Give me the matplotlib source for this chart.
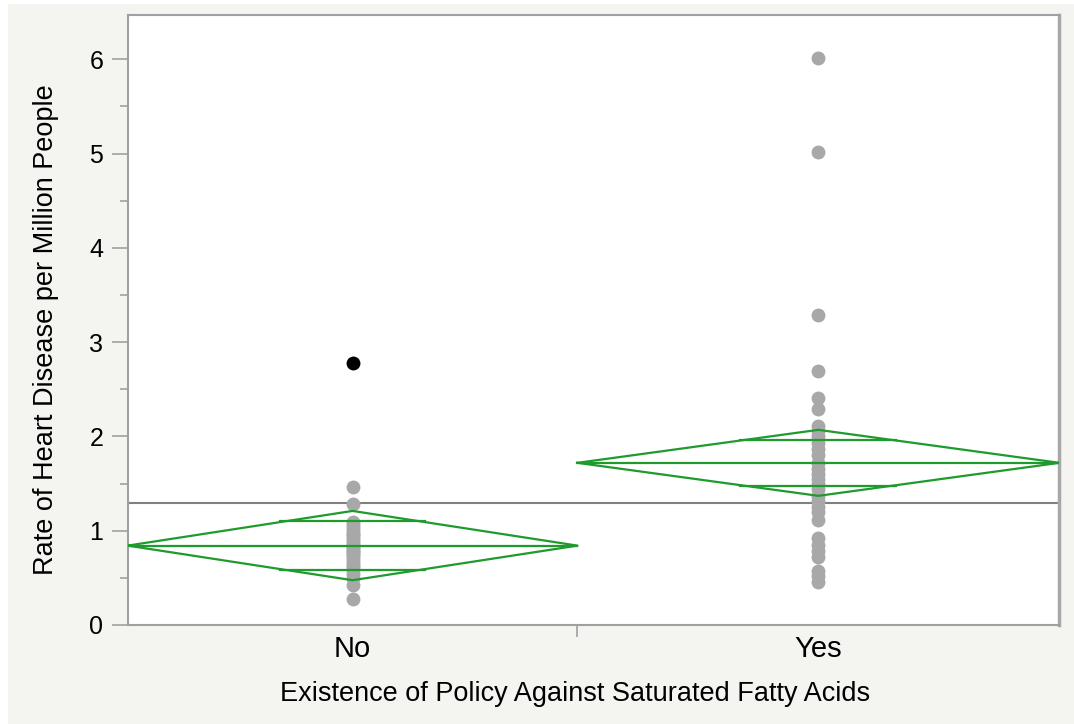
import numpy as np
import matplotlib
matplotlib.use('Agg')
import matplotlib.pyplot as plt
from matplotlib.patches import Rectangle
from matplotlib.ticker import MultipleLocator

plt.rcParams['font.family'] = ['Liberation Sans', 'DejaVu Sans']

# data
groups = ['No', 'Yes']
no_vals = [1.465, 1.28, 1.09, 1.06, 1.03, 1.00, 0.97, 0.95, 0.92, 0.90, 0.87,
           0.85, 0.83, 0.81, 0.79, 0.77, 0.75, 0.73, 0.70, 0.67, 0.64, 0.61,
           0.58, 0.54, 0.50, 0.42, 0.28]
no_excluded = [2.78]
yes_vals = [6.01, 5.02, 3.29, 2.69, 2.41, 2.29, 2.11, 2.06, 2.00, 1.93, 1.87,
            1.80, 1.72, 1.65, 1.60, 1.55, 1.50, 1.44, 1.37, 1.31, 1.25, 1.20,
            1.11, 0.92, 0.85, 0.78, 0.72, 0.57, 0.52, 0.46]
group_means = [0.842, 1.72]
ci_low = [0.475, 1.37]
ci_high = [1.21, 2.07]
grand_mean = 1.295

green = '#1f9b2d'
dot_gray = '#a8a8a8'

fig = plt.figure(figsize=(10.74, 7.24), dpi=100)
fig.patch.set_facecolor('white')
fig.patches.append(Rectangle((8 / 1074, 0), 1, 1 - 4 / 724, transform=fig.transFigure,
                             facecolor='#f4f4f0', edgecolor='none', zorder=-10))
ax = fig.add_axes([127.7 / 1074, 99 / 724, 931.6 / 1074, 610 / 724])
ax.set_facecolor('white')

# group widths proportional to group size (JMP style)
n = [len(no_vals) + len(no_excluded), len(yes_vals)]
edges = np.concatenate([[0], np.cumsum(n)]) / sum(n)
centers = (edges[:-1] + edges[1:]) / 2

all_pts = [no_vals, yes_vals]
for i in range(2):
    x0, x1, xc = edges[i], edges[i + 1], centers[i]
    ax.plot([xc] * len(all_pts[i]), all_pts[i], 'o', color=dot_gray, ms=10,
            mec='none', zorder=3)
    m, lo, hi = group_means[i], ci_low[i], ci_high[i]
    ax.plot([x0, xc, x1, xc, x0], [m, hi, m, lo, m], color=green, lw=1.6, zorder=4)
    ax.plot([x0, x1], [m, m], color=green, lw=1.6, zorder=4)
    w = (x1 - x0) * 0.162
    for d in [(hi - m) / np.sqrt(2), -(m - lo) / np.sqrt(2)]:
        ax.plot([xc - w, xc + w], [m + d, m + d], color=green, lw=1.6, zorder=4)

ax.plot([centers[0]] * len(no_excluded), no_excluded, 'o', color='black', ms=10,
        mec='none', zorder=3)
ax.axhline(grand_mean, color='#808080', lw=1.5, zorder=2)

ax.set_xlim(0, 1)
ax.set_ylim(0, 6.47)
ax.yaxis.set_major_locator(MultipleLocator(1))
ax.yaxis.set_minor_locator(MultipleLocator(0.5))
ax.tick_params(axis='y', which='major', length=11.5, width=1.2, color='#a0a0a0',
               labelsize=18, pad=6)
ax.tick_params(axis='y', which='minor', length=6, width=1.2, color='#a0a0a0')
ax.set_xticks(centers)
ax.set_xticklabels(groups)
ax.set_xticks([edges[1]], minor=True)
ax.tick_params(axis='x', which='major', length=0, labelsize=21, pad=7)
ax.tick_params(axis='x', which='minor', length=8.5, width=1.2, color='#a0a0a0')

for side in ['left', 'bottom', 'top']:
    ax.spines[side].set_color('#a0a0a0')
    ax.spines[side].set_linewidth(1.5)
ax.spines['right'].set_color('#a8a8a8')
ax.spines['right'].set_linewidth(2.5)

ax.set_xlabel('Existence of Policy Against Saturated Fatty Acids', fontsize=19.5,
              labelpad=13)
ax.set_ylabel('Rate of Heart Disease per Million People', fontsize=19.5, labelpad=22)
ax.xaxis.label.set_x(0.48)
ax.yaxis.label.set_y(0.485)

fig.savefig('out.png', dpi=100, facecolor=fig.get_facecolor())
